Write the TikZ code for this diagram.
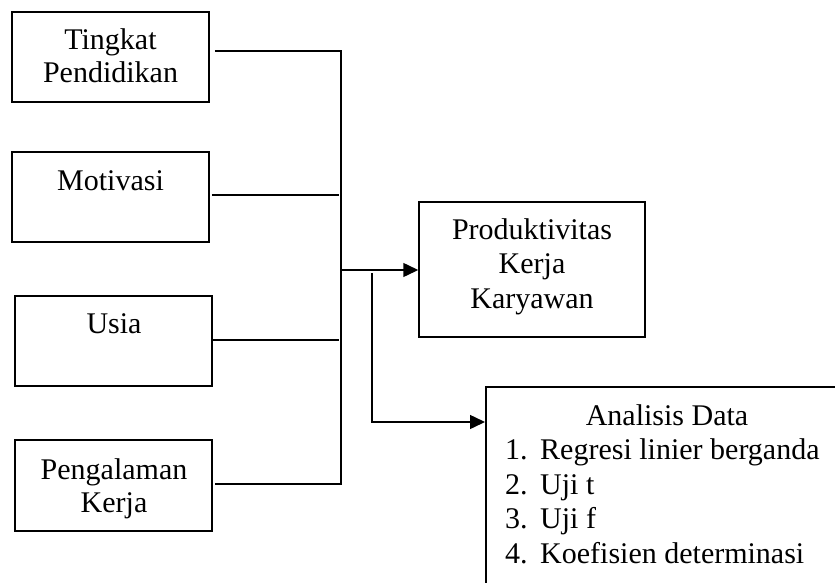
\documentclass[tikz,border=0pt]{standalone}
\usepackage{fontspec}
\setmainfont{Liberation Serif}
\usetikzlibrary{arrows.meta}
\begin{document}
\begin{tikzpicture}[x=1pt,y=1pt,
  box/.style={draw,line width=1.5pt,rectangle,inner sep=0pt,minimum width=197pt,minimum height=90pt},
  txt/.style={anchor=base,inner sep=0pt,font=\fontsize{30}{34.5}\selectfont},
  lft/.style={anchor=base west,inner sep=0pt,font=\fontsize{30}{34.5}\selectfont},
  conn/.style={line width=1.5pt},
  arr/.style={line width=1.5pt,-{Triangle[length=15pt,width=14pt]}}]
\clip (0,0) rectangle (835,582);
\useasboundingbox (0,0) rectangle (835,582);
% boxes
\node[box] (b1) at (110.5,525) {};
\node[box] (b2) at (110.5,385) {};
\node[box] (b3) at (113.5,241) {};
\node[box,minimum height=91pt] (b4) at (113.5,96.5) {};
\node[box,minimum width=226pt,minimum height=135pt] (prod) at (532,312.5) {};
\node[draw,line width=1.5pt,rectangle,inner sep=0pt,minimum width=400pt,minimum height=260pt,anchor=north west] (ad) at (485,196) {};
% texts
\node[txt] (t1a) at (110.5,532) {Tingkat};
\node[txt] (t1b) at (110.5,499) {Pendidikan};
\node[txt] (t2) at (110.5,391) {Motivasi};
\node[txt] (t3) at (114,249) {Usia};
\node[txt] (t4a) at (114,103) {Pengalaman};
\node[txt] (t4b) at (114,70) {Kerja};
\node[txt] (p1) at (532,342) {Produktivitas};
\node[txt] (p2) at (532,309) {Kerja};
\node[txt] (p3) at (532,274) {Karyawan};
\node[txt] (a0) at (667,157) {Analisis Data};
\node[lft] (n1) at (505,123) {1.};
\node[lft] (n2) at (505,88) {2.};
\node[lft] (n3) at (505,54) {3.};
\node[lft] (n4) at (505,19) {4.};
\node[lft] (i1) at (540,123) {Regresi linier berganda};
\node[lft] (i2) at (540,88) {Uji t};
\node[lft] (i3) at (540,54) {Uji f};
\node[lft] (i4) at (540,19) {Koefisien determinasi};
% bus
\coordinate (bt) at (341,531);
\coordinate (bb) at (341,98);
\coordinate (bm) at (341,312);
\draw[conn] ([xshift=5pt]b1.east |- bt) -- (bt) -- (bb) -- ([xshift=2pt]b4.east |- bb);
\draw[conn] ([xshift=2pt]b2.east |- 0,387) -- (339,387);
\draw[conn] (b3.east |- 0,242) -- (339,242);
\draw[arr] (bm) -- (prod.west |- bm);
\coordinate (s1) at (372,309);
\coordinate (s2) at (372,160);
\draw[arr] (s1) -- (s2) -- (ad.west |- s2);
\end{tikzpicture}
\end{document}
